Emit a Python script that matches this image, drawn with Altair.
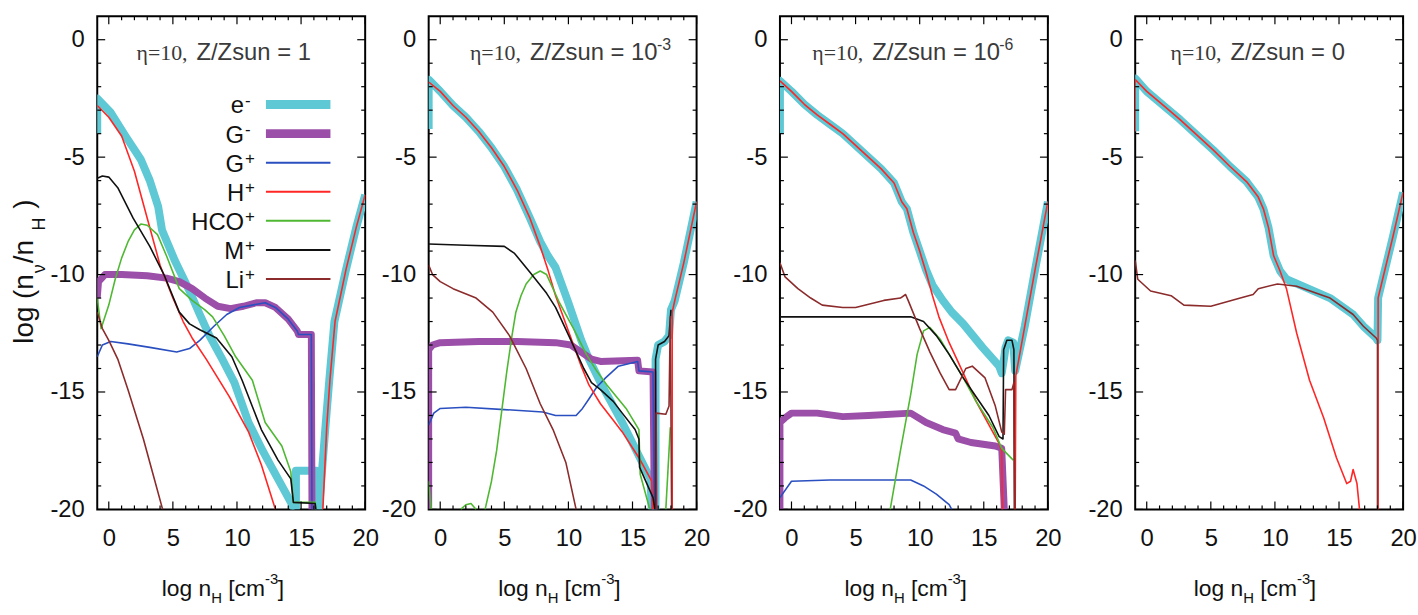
import altair as alt
import pandas as pd

# ---------------- data ----------------
SPECIES = ["e-", "G-", "G+", "H+", "HCO+", "M+", "Li+"]
LEG_MAIN = ["e", "G", "G", "H", "HCO", "M", "Li"]
LEG_SUP = ["-", "-", "+", "+", "+", "+", "+"]
COLORS = ["#5ec8d5", "#9b4fa8", "#2a4fc0", "#ff2626", "#4fb832", "#111111", "#8c2b2b"]
WIDTHS = [8, 7, 1.6, 1.6, 1.6, 1.6, 1.6]
LEG_WIDTHS = [9, 9, 2, 2, 2, 2, 2]

X_DOMAIN = [-0.9, 20]
Y_DOMAIN = [-20, 1]
X_LABELS = [0, 5, 10, 15, 20]
Y_LABELS = [-20, -15, -10, -5, 0]
X_MINOR = [v for v in range(1, 20) if v % 5 != 0]
Y_MINOR = [v for v in range(-19, 0) if v % 5 != 0]

TITLE_ETA = "\u03b7=10,"
TITLE_MAIN = ["Z/Zsun = 1", "Z/Zsun = 10", "Z/Zsun = 10", "Z/Zsun = 0"]
TITLE_SUP = ["", "-3", "-6", ""]

P1 = {
    "e-": [
        [(-0.9, -4.0), (-0.9, -2.5), (0.15, -3.1), (1.3, -4.1), (2.5, -5.1), (3.2, -6.0), (3.85, -7.1),
         (4.15, -8.1), (5.15, -9.4), (6.3, -10.7), (7.1, -11.7), (7.85, -12.6), (8.85, -13.6), (9.8, -14.6),
         (10.9, -16.3), (12.0, -17.5), (12.9, -18.4), (13.8, -19.3), (14.5, -20.0)],
        [(14.6, -20.0), (14.6, -18.35), (16.2, -18.35), (16.2, -20.0)],
        [(16.4, -20.0), (16.9, -16.5), (17.2, -14.5), (17.6, -12.0), (18.5, -9.8), (19.3, -8.0), (20.0, -6.6)],
    ],
    "G-": [[(-0.9, -11.0), (-0.8, -10.3), (-0.3, -10.0), (1, -10.0), (3, -10.05), (4.5, -10.15), (5.5, -10.3),
            (6.5, -10.6), (7.5, -11.0), (8.5, -11.35), (9.5, -11.45), (10.5, -11.35), (11.5, -11.2), (12.2, -11.2),
            (13, -11.4), (14, -11.9), (14.7, -12.4), (14.8, -12.55), (15.8, -12.55), (15.85, -20)]],
    "G+": [[(-0.9, -13.5), (-0.5, -13.0), (0.15, -12.85), (1.5, -12.95), (3.2, -13.1), (5.3, -13.3), (6.3, -13.15),
            (7.1, -12.8), (8.2, -12.2), (9.2, -11.7), (10.2, -11.4), (11.2, -11.3), (12.2, -11.2), (13, -11.4),
            (14, -11.9), (14.7, -12.4), (14.8, -12.55), (15.8, -12.55), (15.85, -20)]],
    "H+": [
        [(-0.9, -2.8), (0, -3.3), (1, -4.1), (2, -5.6), (3, -7.6), (4, -9.6), (5, -11.0), (5.8, -12.0), (6.5, -12.7),
         (7.6, -13.6), (8.5, -14.4), (9.4, -15.2), (10.9, -16.7), (11.9, -18.1), (13, -20)],
        [(16.7, -20), (17.0, -16.5), (17.25, -14.5), (17.65, -12.0), (18.5, -9.8), (19.3, -8.0), (20, -6.6)],
    ],
    "HCO+": [[(-0.9, -11.0), (-0.6, -12.3), (0, -11.3), (0.5, -10.2), (1, -9.3), (1.5, -8.6), (2, -8.1), (2.5, -7.85),
              (3, -7.9), (3.8, -8.3), (4.5, -9.2), (5.5, -10.6), (6.5, -11.1), (7.5, -11.5), (8.1, -11.8), (9.0, -12.6),
              (9.9, -13.5), (11.2, -14.5), (12.2, -16.3), (13.5, -17.3), (14.2, -18.4), (14.4, -19.7), (16.1, -19.7),
              (16.15, -20)]],
    "M+": [[(-0.9, -5.9), (-0.5, -5.8), (0, -5.85), (0.7, -6.3), (1.9, -7.6), (3.2, -8.8), (4.3, -10.0), (5.5, -11.6),
            (6.3, -12.1), (7.1, -12.35), (8.4, -12.7), (9.6, -13.5), (10.4, -14.5), (11.9, -16.6), (13.2, -17.9),
            (14.2, -18.7), (14.4, -19.7), (16.1, -19.75), (16.15, -20)]],
    "Li+": [[(-0.9, -11.6), (-0.5, -12.3), (0, -12.8), (0.7, -13.6), (1.5, -14.9), (2.7, -17.0), (3.5, -18.6),
             (4.2, -20)]],
}

P2 = {
    "e-": [
        [(-0.9, -3.8), (-0.9, -1.7), (0, -2.2), (1, -2.8), (2, -3.3), (3, -3.9), (4, -4.6), (5, -5.4), (6, -6.4),
         (7, -7.6), (7.8, -8.6), (8.4, -9.2), (9.0, -9.7), (10, -11.2), (11, -12.8), (11.6, -13.6), (12.5, -14.6),
         (13.3, -15.4), (14.2, -16.3), (15.3, -17.5), (16.4, -18.7), (16.5, -20)],
        [(16.8, -20), (16.8, -13.6), (17.0, -13.0), (17.5, -12.85), (17.85, -12.6), (18.0, -11.5), (18.3, -11.1),
         (19, -9.5), (20, -6.9)],
    ],
    "G-": [[(-0.9, -20), (-0.9, -13.2), (-0.6, -13.0), (0, -12.9), (3, -12.85), (6, -12.85), (9, -12.9), (10.2, -13.0),
            (11, -13.3), (11.8, -13.6), (12.5, -13.7), (15.4, -13.65), (15.5, -14.1), (16.6, -14.15), (16.7, -20)]],
    "G+": [[(-0.9, -16.4), (-0.5, -15.9), (0, -15.7), (2, -15.65), (5, -15.75), (8, -15.85), (9, -16.0), (10.6, -16.0),
            (11.1, -15.7), (11.6, -15.3), (12.2, -14.8), (12.9, -14.4), (13.9, -13.9), (15.4, -13.7), (15.5, -14.1),
            (16.6, -14.15), (16.7, -20)]],
    "H+": [
        [(-0.9, -1.8), (0, -2.2), (1, -2.8), (2, -3.3), (3, -3.9), (4, -4.6), (5, -5.4), (6, -6.4), (7, -7.6),
         (7.8, -8.8), (8.4, -9.8), (9.0, -10.9), (10, -12.4), (11, -13.9), (11.6, -14.7), (12.5, -15.5),
         (13.5, -16.2), (14.2, -16.7), (15.5, -17.8), (16.5, -18.8), (16.6, -20)],
        [(18.1, -20), (18.1, -11.6), (18.3, -11.1), (19, -9.5), (20, -6.9)],
    ],
    "HCO+": [
        [(-0.9, -18.8), (-0.7, -20)],
        [(1.6, -20), (2.0, -19.8), (2.4, -19.75), (2.8, -20)],
        [(3.5, -20), (4.0, -18.8), (4.4, -17.5), (4.8, -15.8), (5.2, -14.1), (5.6, -12.6), (5.9, -11.6), (6.3, -10.9),
         (6.7, -10.4), (7.3, -10.0), (7.8, -9.85), (8.3, -10.0), (8.8, -10.6), (9.3, -11.2), (10.4, -12.3),
         (11.4, -13.4), (12.2, -14.1), (13, -14.7), (14.5, -15.7), (15.5, -16.6), (15.6, -18.5), (16.3, -19.9),
         (16.4, -20)],
        [(17.6, -20), (17.95, -16.5)],
    ],
    "M+": [
        [(-0.9, -8.7), (2, -8.75), (5, -8.8), (5.8, -9.1), (7, -9.9), (8.3, -10.8), (9.0, -11.4), (10.2, -12.8),
         (11.2, -14.0), (11.8, -14.6), (12.5, -14.9), (13.5, -15.4), (14.2, -15.9), (15.2, -16.6), (15.5, -17.0),
         (15.55, -18.2), (16.6, -19.5), (16.75, -20)],
        [(16.8, -20), (16.8, -13.6), (17.0, -13.0), (17.5, -12.85), (17.85, -12.6), (18.0, -11.5)],
    ],
    "Li+": [
        [(-0.9, -9.6), (-0.6, -10.0), (0, -10.3), (1, -10.6), (2.8, -11.0), (4.1, -11.6), (5.4, -12.6), (6.7, -14.0),
         (7.8, -15.5), (8.8, -16.6), (9.8, -18.0), (10.6, -20)],
        [(16.85, -20), (16.85, -15.9), (17.6, -15.95), (17.85, -15.6), (17.95, -11.8), (18.05, -20)],
    ],
}

P3 = {
    "e-": [[(-0.9, -4.0), (-0.9, -1.75), (0, -2.2), (1, -2.75), (2, -3.2), (3, -3.6), (4, -4.0), (5, -4.5), (6, -5.0),
            (7, -5.5), (8, -6.1), (8.6, -6.9), (9.0, -7.2), (9.5, -8.2), (10, -9.0), (10.5, -9.8), (11, -10.45),
            (11.8, -11.1), (12.5, -11.6), (13.4, -12.1), (14.9, -13.1), (16.2, -13.9), (16.4, -14.2), (16.6, -13.5),
            (16.7, -13.1), (16.9, -12.8), (17.3, -12.9), (17.45, -14.1), (18.2, -12.2), (19, -9.8), (20, -6.9)]],
    "G-": [[(-0.9, -20), (-0.9, -16.3), (-0.5, -16.1), (0, -15.9), (2, -15.9), (4, -16.05), (6, -16.0), (9.3, -15.9),
            (10.5, -16.3), (11.8, -16.6), (12.8, -16.75), (13.0, -17.0), (14, -17.15), (15.9, -17.3), (16.4, -17.4),
            (16.6, -20)]],
    "G+": [[(-0.9, -19.5), (0, -18.8), (3, -18.75), (6, -18.75), (9.3, -18.75), (10.3, -19.0), (11.3, -19.35),
            (12.3, -19.8), (12.5, -20)]],
    "H+": [
        [(-0.9, -1.75), (0, -2.2), (1, -2.75), (2, -3.2), (3, -3.6), (4, -4.0), (5, -4.5), (6, -5.0), (7, -5.5),
         (8, -6.1), (8.6, -6.9), (9.0, -7.2), (9.5, -8.2), (10, -9.0), (10.5, -9.9), (11, -10.9), (11.5, -11.8),
         (12.3, -12.9), (13.4, -14.2), (14.4, -15.4), (15.4, -16.4), (16.2, -17.2), (16.4, -17.5), (16.45, -20)],
        [(17.45, -20), (17.5, -14.3), (18.2, -12.2), (19, -9.8), (20, -6.9)],
    ],
    "HCO+": [[(7.7, -20), (8.5, -17.5), (9.3, -15.1), (9.8, -13.4), (10.3, -12.4), (10.8, -12.25), (11.6, -12.75),
              (12.3, -13.4), (13.4, -14.4), (14.4, -15.4), (15.7, -16.5), (16.4, -17.4), (17.3, -17.9)]],
    "M+": [[(-0.9, -11.8), (3, -11.8), (6, -11.8), (9.3, -11.8), (10.3, -12.0), (11.3, -12.6), (12.3, -13.4),
            (13.4, -14.4), (14.4, -15.2), (15.4, -16.0), (16.2, -16.9), (16.5, -17.0), (16.55, -13.2), (16.8, -12.8),
            (17.2, -12.8), (17.35, -13.2), (17.4, -20)]],
    "Li+": [[(-0.9, -9.5), (-0.5, -10.1), (0.5, -10.6), (1.5, -11.0), (2.4, -11.3), (4, -11.4), (5, -11.4),
             (7.2, -11.1), (8.5, -11.0), (8.9, -10.85), (9.1, -11.1), (10, -12.3), (10.8, -13.3), (11.6, -14.2),
             (12.3, -14.9), (12.8, -14.9), (13.6, -14.0), (14.1, -13.9), (15.1, -14.4), (15.9, -15.6), (16.4, -16.7),
             (16.6, -16.8), (16.7, -14.9), (17.2, -14.9), (17.35, -14.6), (17.4, -20)]],
}

P4 = {
    "e-": [[(-0.9, -3.9), (-0.9, -1.65), (0, -2.2), (1.3, -2.8), (2.6, -3.4), (3.9, -4.05), (5.2, -4.7), (6.5, -5.4),
            (7.8, -6.05), (8.7, -6.7), (9.1, -7.2), (9.5, -8.0), (9.9, -9.2), (10.4, -9.85), (10.9, -10.2),
            (12.2, -10.5), (14.3, -11.0), (16.1, -11.7), (16.9, -12.2), (17.9, -12.7), (18.0, -12.8), (18.05, -11.0),
            (18.4, -10.2), (19.2, -8.4), (20, -6.5)]],
    "H+": [
        [(-0.9, -3.9), (-0.9, -1.7), (0, -2.2), (1.3, -2.8), (2.6, -3.4), (3.9, -4.05), (5.2, -4.7), (6.5, -5.4),
         (7.8, -6.05), (8.7, -6.7), (9.1, -7.2), (9.5, -8.0), (9.9, -9.2), (10.4, -9.85), (10.9, -10.6),
         (11.7, -12.5), (12.7, -14.5), (13.8, -16.1), (14.8, -17.8), (15.6, -18.9), (15.9, -18.8), (16.1, -18.3),
         (16.4, -18.9), (16.6, -20)],
        [(18.05, -20), (18.05, -11.0), (18.4, -10.2), (19.2, -8.4), (20, -6.5)],
    ],
    "Li+": [[(-0.9, -9.4), (-0.7, -10.2), (0.3, -10.7), (1.9, -10.9), (2.9, -11.3), (5, -11.35), (7.3, -11.0),
             (8.3, -10.85), (8.7, -10.6), (10.2, -10.4), (11.7, -10.5), (14.3, -11.0), (16.1, -11.7), (16.9, -12.2),
             (17.9, -12.7), (18.0, -12.8), (18.0, -20)]],
}

PANELS = [P1, P2, P3, P4]

# ---------------- layout / style ----------------
W, H = 270, 497
SANS = "Liberation Sans, Arial, sans-serif"
SERIF = "Liberation Serif, Times New Roman, serif"
AXIS_EXTENT = [97, 45, 68, 72]
TITLE_X0 = [100, 102, 93, 96]
XTITLE_X0 = [65, 70, 65, 59]

XS = alt.Scale(domain=X_DOMAIN, nice=False, zero=False)
YS = alt.Scale(domain=Y_DOMAIN, nice=False, zero=False)


def x_axis():
    return alt.Axis(values=X_LABELS, title=None, ticks=False, domain=False, grid=False,
                    labelFont=SANS, labelFontSize=24, labelColor="#111111",
                    labelPadding=17, labelFlush=False)


def y_axis(ext):
    return alt.Axis(values=Y_LABELS, title=None, ticks=False, domain=False, grid=False,
                    labelFont=SANS, labelFontSize=24, labelColor="#111111",
                    labelPadding=13, labelExpr="'' + datum.value",
                    minExtent=ext, maxExtent=ext)


def txt(s, x, y, size, font, align="left", angle=0, color="#111111"):
    props = dict(align=align, baseline="alphabetic", font=font, fontSize=size, color=color)
    if angle:
        props["angle"] = angle
    return alt.Chart(pd.DataFrame({"t": [s]})).mark_text(**props).encode(
        x=alt.value(x), y=alt.value(y), text="t:N")


def ticks_x(vals, length, top):
    y0 = 0 if top else H
    y1 = length if top else H - length
    return alt.Chart(pd.DataFrame({"v": vals})).mark_rule(color="black", strokeWidth=1.2).encode(
        x=alt.X("v:Q", scale=XS, axis=x_axis()), y=alt.value(y0), y2=alt.value(y1))


def ticks_y(vals, length, right, ext):
    x0 = W if right else 0
    x1 = W - length if right else length
    return alt.Chart(pd.DataFrame({"v": vals})).mark_rule(color="black", strokeWidth=1.2).encode(
        y=alt.Y("v:Q", scale=YS, axis=y_axis(ext)), x=alt.value(x0), x2=alt.value(x1))


def panel(k):
    data = PANELS[k]
    ext = AXIS_EXTENT[k]
    layers = []
    for j, sp in enumerate(SPECIES):
        if sp not in data:
            continue
        rows = []
        for si, seg in enumerate(data[sp]):
            for i, (xv, yv) in enumerate(seg):
                rows.append({"seg": si, "i": i, "x": xv, "y": yv})
        layers.append(
            alt.Chart(pd.DataFrame(rows)).mark_line(
                color=COLORS[j], strokeWidth=WIDTHS[j], clip=True, strokeJoin="round"
            ).encode(
                x=alt.X("x:Q", scale=XS, axis=x_axis()),
                y=alt.Y("y:Q", scale=YS, axis=y_axis(ext)),
                detail="seg:N",
                order="i:Q",
            )
        )
    # inward ticks on all four sides
    for top in (False, True):
        layers.append(ticks_x(X_LABELS, 8, top))
        layers.append(ticks_x(X_MINOR, 4, top))
    for right in (False, True):
        layers.append(ticks_y(Y_LABELS, 8, right, ext))
        layers.append(ticks_y(Y_MINOR, 4, right, ext))

    # panel title
    x0 = TITLE_X0[k]
    layers.append(txt(TITLE_ETA, x0 - 9, 44, 22, SERIF, align="right", color="#3a3a3a"))
    layers.append(txt(TITLE_MAIN[k], x0, 44, 24, SANS, color="#3a3a3a"))
    if TITLE_SUP[k]:
        layers.append(txt(TITLE_SUP[k], x0 + 128, 34, 16, SANS, color="#3a3a3a"))

    # x axis title  log n_H [cm^-3]
    s = XTITLE_X0[k]
    layers.append(txt("log n", s, 584, 23, SANS))
    layers.append(txt("H", s + 50, 591, 15, SANS))
    layers.append(txt("[cm", s + 67, 584, 23, SANS))
    layers.append(txt("-3", s + 104, 572, 15, SANS))
    layers.append(txt("]", s + 117, 584, 23, SANS))

    if k == 0:
        # y axis title  log (n_nu /n_H )
        layers.append(txt("log (n", -65, 330, 28, SANS, angle=270))
        layers.append(txt("\u03bd", -53, 259, 18, SANS, angle=270))
        layers.append(txt("/n", -65, 249, 28, SANS, angle=270))
        layers.append(txt("H", -53, 216, 18, SANS, angle=270))
        layers.append(txt(")", -65, 194, 28, SANS, angle=270))
        # legend
        for j in range(len(SPECIES)):
            c = 89 + j * 29.3
            layers.append(txt(LEG_MAIN[j], 148, c + 9, 24, SANS, align="right"))
            layers.append(txt(LEG_SUP[j], 149, c + 1, 17, SANS))
            layers.append(
                alt.Chart(pd.DataFrame({"a": [0]})).mark_rule(
                    color=COLORS[j], strokeWidth=LEG_WIDTHS[j]
                ).encode(x=alt.value(170), x2=alt.value(235), y=alt.value(c))
            )
    return alt.layer(*layers).properties(width=W, height=H)


chart = alt.hconcat(*[panel(k) for k in range(4)], spacing=0).properties(
    padding={"left": 0, "top": 12, "right": 0, "bottom": 0},
    background="white",
).configure_view(stroke="black", strokeWidth=2)

chart.save("out.html", embed_options={"renderer": "svg", "actions": False})
